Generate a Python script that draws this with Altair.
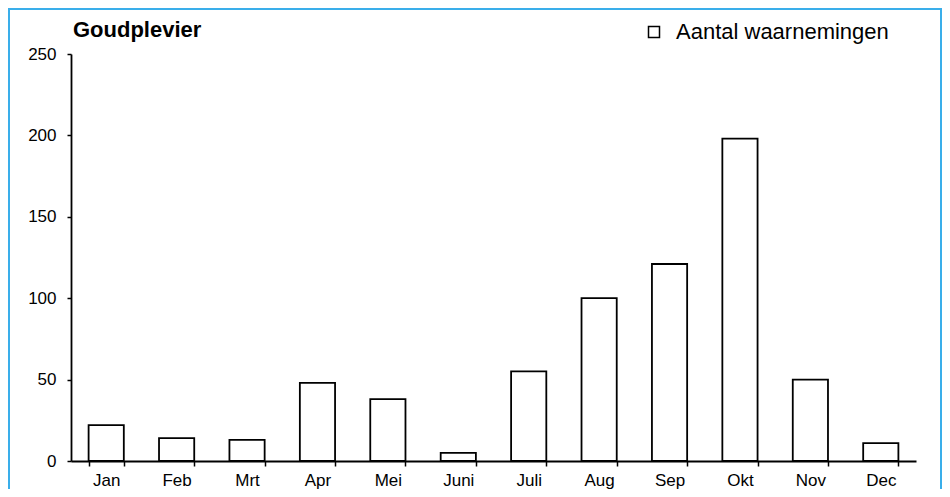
import altair as alt
import pandas as pd

months = ["Jan", "Feb", "Mrt", "Apr", "Mei", "Juni", "Juli", "Aug", "Sep", "Okt", "Nov", "Dec"]
counts = [22, 14, 13, 48, 38, 5, 55, 100, 121, 198, 50, 11]
series = ["Aantal waarnemingen"] * len(months)
title_text = ["Goudplevier"]

df = pd.DataFrame({"maand": months, "aantal": counts, "reeks": series})
df_title = pd.DataFrame({"titel": title_text})

W, H = 845, 407
FONT = "Liberation Sans"

bars = alt.Chart(df).mark_bar(stroke="black", strokeWidth=1.8).encode(
    x=alt.X("maand:N", sort=months, title=None,
            scale=alt.Scale(paddingInner=0.5, paddingOuter=0.25),
            axis=alt.Axis(labelAngle=0, tickBand="extent", tickSize=5, labelPadding=6,
                          domainColor="black", tickColor="black", domainWidth=1.8, tickWidth=1.5,
                          labelFontSize=17, labelColor="black", labelFont=FONT, grid=False)),
    y=alt.Y("aantal:Q", title=None,
            scale=alt.Scale(domain=[0, 250], nice=False),
            axis=alt.Axis(values=[0, 50, 100, 150, 200, 250], tickSize=4, labelPadding=11,
                          domainColor="black", tickColor="black", domainWidth=1.8, tickWidth=1.5,
                          labelFontSize=17, labelColor="black", labelFont=FONT, grid=False)),
    fill=alt.Fill("reeks:N", scale=alt.Scale(range=["white"]),
                  legend=alt.Legend(title=None, orient="none", legendX=572, legendY=-33,
                                    symbolType="square", symbolSize=121, symbolFillColor="white",
                                    symbolStrokeColor="black", symbolStrokeWidth=1.5,
                                    labelFontSize=22, labelFont=FONT, labelColor="black",
                                    labelOffset=11, labelLimit=500)),
)

title = alt.Chart(df_title).mark_text(
    align="left", baseline="alphabetic", fontSize=22, font=FONT, fontWeight="bold", color="black"
).encode(text="titel:N", x=alt.value(2), y=alt.value(-17))

border = alt.Chart(df_title).mark_rect(fill=None, stroke="#3aaeea", strokeWidth=2).encode(
    x=alt.value(-62), x2=alt.value(870), y=alt.value(-45), y2=alt.value(470)
)

chart = alt.layer(bars, title, border).properties(
    width=W, height=H,
    padding={"left": 63, "top": 46, "right": 26, "bottom": 28},
    autosize="none",
).configure_view(stroke=None)

chart.save("out.html", embed_options={"renderer": "svg", "actions": False})
